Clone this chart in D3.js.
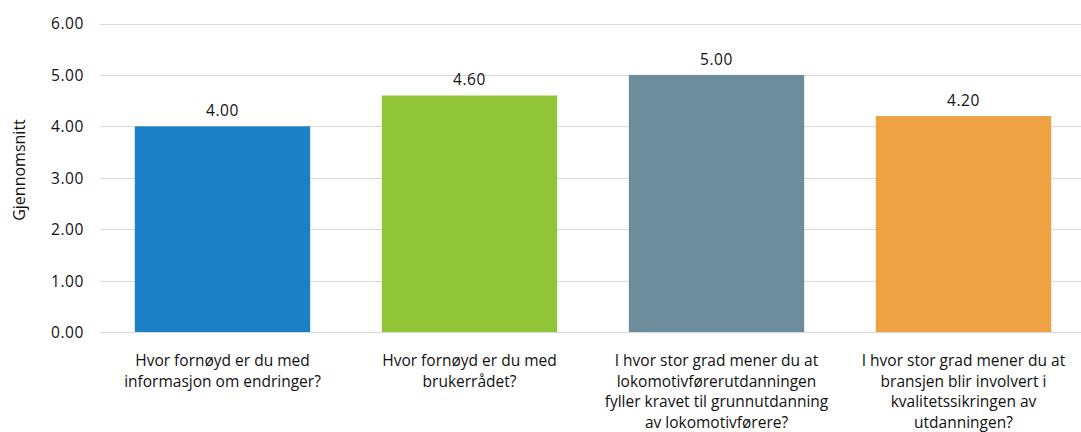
<!DOCTYPE html>
<html>
<head>
<meta charset="utf-8">
<script src="https://cdn.jsdelivr.net/npm/d3@7"></script>
<style>
  html, body { margin: 0; padding: 0; background: #fff; }
  svg { display: block; }
  text { font-family: "Open Sans", "Noto Sans", sans-serif; fill: #111; }
</style>
</head>
<body>
<svg id="chart" width="1081" height="432"></svg>
<script>
// Question texts (line breaks as shown under each bar)
const categories = [
  "Hvor fornøyd er du med\ninformasjon om endringer?",
  "Hvor fornøyd er du med\nbrukerrådet?",
  "I hvor stor grad mener du at\nlokomotivførerutdanningen\nfyller kravet til grunnutdanning\nav lokomotivførere?",
  "I hvor stor grad mener du at\nbransjen blir involvert i\nkvalitetssikringen av\nutdanningen?"
];
const averages = [4.00, 4.60, 5.00, 4.20];
const barColors = ["#1b80c6", "#8fc536", "#6e8d9c", "#eea244"];
const yTicks = [0, 1, 2, 3, 4, 5, 6];
const yAxisTitle = "Gjennomsnitt";

const svg = d3.select("#chart");

const x = d3.scaleBand()
  .domain(categories)
  .range([99, 1087])
  .paddingInner(0.29)
  .paddingOuter(0.145);

const y = d3.scaleLinear()
  .domain([0, 6])
  .range([332, 23.5]);

// Horizontal gridlines
svg.append("g")
  .selectAll("line")
  .data(yTicks)
  .join("line")
  .attr("x1", 100)
  .attr("x2", 1081)
  .attr("y1", d => Math.round(y(d)) + 0.5)
  .attr("y2", d => Math.round(y(d)) + 0.5)
  .attr("stroke", "#d9d9d9")
  .attr("stroke-width", 1);

// Y axis tick labels
const yAxis = d3.axisLeft(y)
  .tickValues(yTicks)
  .tickFormat(d3.format(".2f"))
  .tickSize(0)
  .tickPadding(0);

svg.append("g")
  .attr("transform", "translate(84,0)")
  .call(yAxis)
  .call(g => g.select(".domain").remove())
  .call(g => g.selectAll("text")
    .attr("font-size", 15.5)
    .attr("letter-spacing", 0.6)
    .attr("font-family", "Open Sans, sans-serif")
    .attr("fill", "#111")
    .attr("dy", "0.35em"));

// Axis title
svg.append("text")
  .attr("transform", "translate(25,170) rotate(-90)")
  .attr("text-anchor", "middle")
  .attr("font-size", 16)
  .text(yAxisTitle);

// Bars
svg.append("g")
  .selectAll("rect")
  .data(averages)
  .join("rect")
  .attr("x", (d, i) => x(categories[i]))
  .attr("width", x.bandwidth())
  .attr("y", d => y(d))
  .attr("height", d => y(0) - y(d))
  .attr("fill", (d, i) => barColors[i]);

// Value labels above bars
svg.append("g")
  .selectAll("text")
  .data(averages)
  .join("text")
  .attr("x", (d, i) => x(categories[i]) + x.bandwidth() / 2)
  .attr("y", d => y(d) - 10)
  .attr("text-anchor", "middle")
  .attr("font-size", 15.5)
  .attr("letter-spacing", 0.6)
  .text(d => d3.format(".2f")(d));

// Category labels, wrapped on the stored line breaks
const catGroups = svg.append("g")
  .selectAll("text")
  .data(categories)
  .join("text")
  .attr("x", d => x(d) + x.bandwidth() / 2)
  .attr("y", 366)
  .attr("text-anchor", "middle")
  .attr("font-size", 15.5);

catGroups.each(function(d) {
  const t = d3.select(this);
  d.split("\n").forEach((line, i) => {
    t.append("tspan")
      .attr("x", t.attr("x"))
      .attr("dy", i === 0 ? 0 : 20.6)
      .text(line);
  });
});
</script>
</body>
</html>
